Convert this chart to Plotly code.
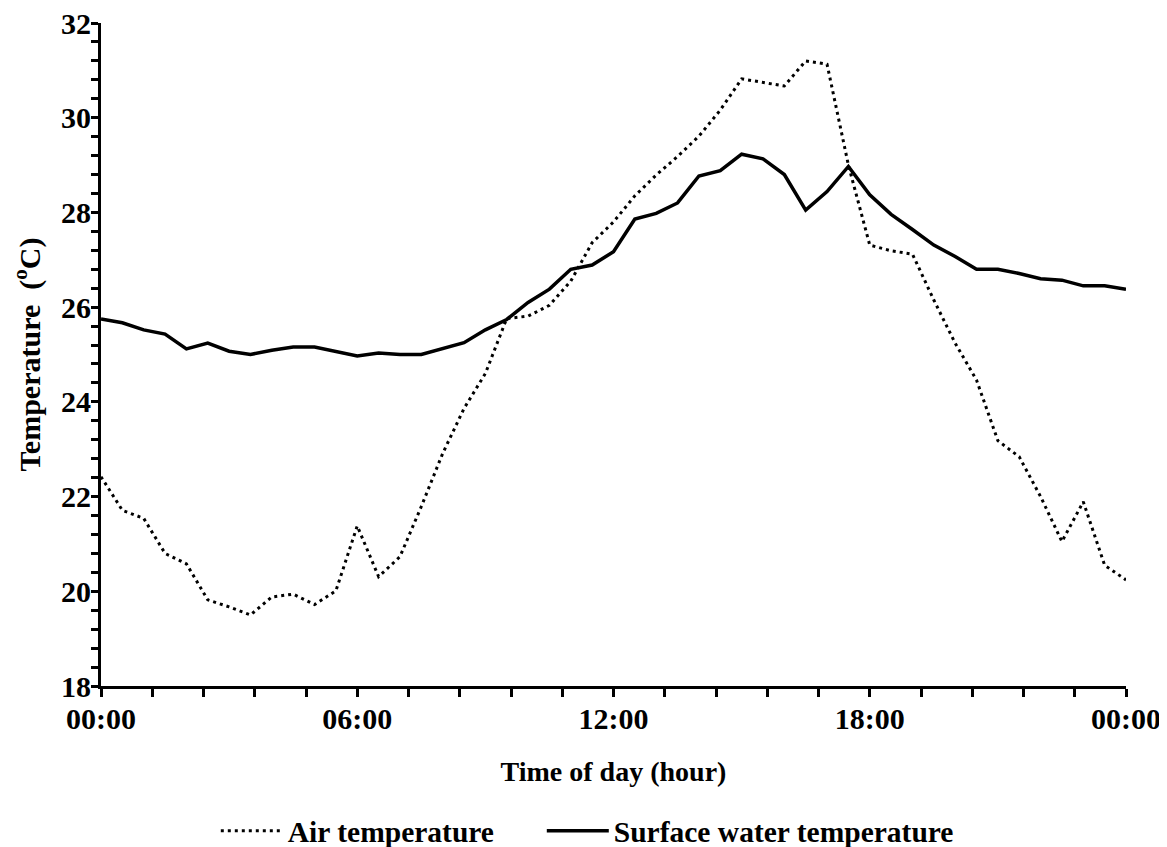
import plotly.graph_objects as go

# Half-hourly observation times (hh:mm) over one day
times = ["00:00", "00:30", "01:00", "01:30", "02:00", "02:30", "03:00", "03:30",
         "04:00", "04:30", "05:00", "05:30", "06:00", "06:30", "07:00", "07:30",
         "08:00", "08:30", "09:00", "09:30", "10:00", "10:30", "11:00", "11:30",
         "12:00", "12:30", "13:00", "13:30", "14:00", "14:30", "15:00", "15:30",
         "16:00", "16:30", "17:00", "17:30", "18:00", "18:30", "19:00", "19:30",
         "20:00", "20:30", "21:00", "21:30", "22:00", "22:30", "23:00", "23:30",
         "24:00"]

air_temperature = [22.42, 21.71, 21.54, 20.80, 20.58, 19.82, 19.67, 19.50,
                   19.88, 19.94, 19.72, 20.01, 21.38, 20.31, 20.73, 21.79,
                   22.91, 23.86, 24.60, 25.76, 25.81, 26.04, 26.55, 27.36,
                   27.80, 28.35, 28.79, 29.18, 29.61, 30.16, 30.82, 30.74,
                   30.67, 31.20, 31.13, 29.00, 27.31, 27.19, 27.12, 26.15,
                   25.24, 24.46, 23.18, 22.84, 22.00, 21.05, 21.89, 20.55,
                   20.24]

water_temperature = [25.75, 25.67, 25.52, 25.43, 25.12, 25.24, 25.07, 25.00,
                     25.09, 25.16, 25.16, 25.06, 24.97, 25.03, 25.00, 25.00,
                     25.13, 25.25, 25.52, 25.74, 26.10, 26.38, 26.80, 26.89,
                     27.17, 27.86, 27.98, 28.20, 28.77, 28.88, 29.23, 29.13,
                     28.80, 28.05, 28.44, 28.97, 28.37, 27.96, 27.64, 27.31,
                     27.07, 26.80, 26.80, 26.71, 26.60, 26.57, 26.45, 26.45,
                     26.38]

x_tick_labels = ["00:00", "06:00", "12:00", "18:00", "00:00"]
x_tick_hours = [0, 6, 12, 18, 24]
y_tick_values = [18, 20, 22, 24, 26, 28, 30, 32]

hours = [int(t[:2]) + int(t[3:]) / 60 for t in times]

FONT = "Liberation Serif, Times New Roman, serif"

fig = go.Figure()
fig.add_trace(go.Scatter(
    x=hours, y=air_temperature, mode="lines", name="Air temperature",
    line=dict(color="black", width=3, dash="3px,4px"),
    legendwidth=249,
))
fig.add_trace(go.Scatter(
    x=hours, y=water_temperature, mode="lines", name="Surface water temperature",
    line=dict(color="black", width=3.5),
))

# page body adds an 8px margin, so the figure is sized 8px smaller
fig.update_layout(
    width=1159, height=839,
    margin=dict(l=93, r=41, t=15, b=161, autoexpand=False),
    paper_bgcolor="white", plot_bgcolor="white",
    font=dict(family=FONT, size=28, color="black", weight="bold"),
    showlegend=True,
    legend=dict(
        orientation="h", x=0.112, xanchor="left", y=-0.219, yanchor="middle",
        font=dict(family=FONT, size=29.5, color="black", weight="bold"),
        itemwidth=62, bgcolor="rgba(0,0,0,0)", traceorder="normal",
        tracegroupgap=0, itemclick=False, borderwidth=0,
    ),
)

fig.update_xaxes(
    range=[0, 24], showgrid=False, zeroline=False,
    showline=True, linecolor="black", linewidth=3,
    tickmode="array", tickvals=x_tick_hours, ticktext=x_tick_labels,
    tickfont=dict(family=FONT, size=30, color="black", weight="bold"),
    ticks="outside", ticklen=8, tickwidth=2.5, tickcolor="black",
    ticklabelstandoff=-4, ticklabeloverflow="allow",
    minor=dict(ticks="outside", tick0=0, dtick=1.2, ticklen=8, tickwidth=2.5,
               tickcolor="black", showgrid=False),
    title=dict(text="Time of day (hour)", standoff=28,
               font=dict(family=FONT, size=28, color="black", weight="bold")),
    automargin=False,
)

fig.update_yaxes(
    range=[18, 32], showgrid=False, zeroline=False,
    showline=True, linecolor="black", linewidth=3,
    tickmode="array", tickvals=y_tick_values,
    tickfont=dict(family=FONT, size=30, color="black", weight="bold"),
    ticks="outside", ticklen=7, tickwidth=2.5, tickcolor="black",
    ticklabelstandoff=-6, ticklabeloverflow="allow",
    minor=dict(ticks="outside", tick0=18, dtick=0.4, ticklen=7, tickwidth=2.5,
               tickcolor="black", showgrid=False),
    title=dict(text="Temperature\u00a0 (<sup>o</sup>C)", standoff=22,
               font=dict(family=FONT, size=30, color="black", weight="bold")),
    automargin=True,
)

fig.write_html("out.html")
